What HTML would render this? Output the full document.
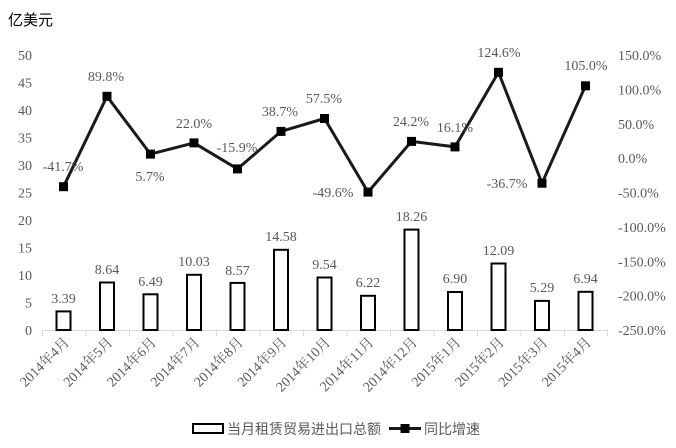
<!DOCTYPE html>
<html><head><meta charset="utf-8"><style>
body{margin:0;background:#fff}
svg{display:block;font-family:"Liberation Serif","Noto Serif CJK SC",serif}
.t{fill:#595959;font-size:14px}
</style></head><body>
<svg width="676" height="448" viewBox="0 0 676 448" xmlns="http://www.w3.org/2000/svg">
<text x="8" y="25" font-size="15" fill="#000" font-family="'Liberation Sans','Noto Sans CJK SC',sans-serif">亿美元</text>
<g class="t" text-anchor="end">
<text x="32" y="60">50</text><text x="32" y="87.5">45</text><text x="32" y="115">40</text><text x="32" y="142.5">35</text><text x="32" y="170">30</text><text x="32" y="197.5">25</text><text x="32" y="225">20</text><text x="32" y="252.5">15</text><text x="32" y="280">10</text><text x="32" y="307.5">5</text><text x="32" y="335">0</text>
</g>
<g class="t">
<text x="618" y="60">150.0%</text><text x="618" y="94.4">100.0%</text><text x="618" y="128.8">50.0%</text><text x="618" y="163">0.0%</text><text x="618" y="197.5">-50.0%</text><text x="618" y="231.9">-100.0%</text><text x="618" y="266.3">-150.0%</text><text x="618" y="300.6">-200.0%</text><text x="618" y="335">-250.0%</text>
</g>
<g stroke="#d9d9d9" stroke-width="1">
<line x1="42" y1="330.5" x2="608" y2="330.5"/>
<line x1="42.5" y1="330" x2="42.5" y2="336"/><line x1="86" y1="330" x2="86" y2="336"/><line x1="129.5" y1="330" x2="129.5" y2="336"/><line x1="173" y1="330" x2="173" y2="336"/><line x1="216.5" y1="330" x2="216.5" y2="336"/><line x1="260" y1="330" x2="260" y2="336"/><line x1="303.5" y1="330" x2="303.5" y2="336"/><line x1="347" y1="330" x2="347" y2="336"/><line x1="390.5" y1="330" x2="390.5" y2="336"/><line x1="434" y1="330" x2="434" y2="336"/><line x1="477.5" y1="330" x2="477.5" y2="336"/><line x1="521" y1="330" x2="521" y2="336"/><line x1="564.5" y1="330" x2="564.5" y2="336"/><line x1="607.5" y1="330" x2="607.5" y2="336"/>
</g>
<g fill="#fff" stroke="#000" stroke-width="2">
<rect x="56.5" y="311.4" width="14" height="18.6"/>
<rect x="100" y="282.5" width="14" height="47.5"/>
<rect x="143.5" y="294.3" width="14" height="35.7"/>
<rect x="187" y="274.8" width="14" height="55.2"/>
<rect x="230.5" y="282.9" width="14" height="47.1"/>
<rect x="274" y="249.8" width="14" height="80.2"/>
<rect x="317.5" y="277.5" width="14" height="52.5"/>
<rect x="361" y="295.8" width="14" height="34.2"/>
<rect x="404.5" y="229.6" width="14" height="100.4"/>
<rect x="448" y="292" width="14" height="38"/>
<rect x="491.5" y="263.5" width="14" height="66.5"/>
<rect x="535" y="300.9" width="14" height="29.1"/>
<rect x="578.5" y="291.8" width="14" height="38.2"/>
</g>
<g class="t" text-anchor="middle">
<text x="63.5" y="303">3.39</text><text x="107" y="274">8.64</text><text x="150.5" y="286">6.49</text><text x="194" y="266">10.03</text><text x="237.5" y="275">8.57</text><text x="281" y="241">14.58</text><text x="324.5" y="269">9.54</text><text x="368" y="287">6.22</text><text x="411.5" y="221">18.26</text><text x="455" y="283">6.90</text><text x="498.5" y="255">12.09</text><text x="542" y="292">5.29</text><text x="585.5" y="283">6.94</text>
</g>
<polyline fill="none" stroke="#1a1a1a" stroke-width="3" stroke-linejoin="round" points="63.5,186.7 107,96.3 150.5,154.1 194,142.9 237.5,168.9 281,131.4 324.5,118.5 368,192.1 411.5,141.4 455,146.9 498.5,72.3 542,183.2 585.5,85.8"/>
<g fill="#000">
<rect x="59" y="182.2" width="9" height="9"/><rect x="102.5" y="91.8" width="9" height="9"/><rect x="146" y="149.6" width="9" height="9"/><rect x="189.5" y="138.4" width="9" height="9"/><rect x="233" y="164.4" width="9" height="9"/><rect x="276.5" y="126.9" width="9" height="9"/><rect x="320" y="114" width="9" height="9"/><rect x="363.5" y="187.6" width="9" height="9"/><rect x="407" y="136.9" width="9" height="9"/><rect x="450.5" y="142.4" width="9" height="9"/><rect x="494" y="67.8" width="9" height="9"/><rect x="537.5" y="178.7" width="9" height="9"/><rect x="581" y="81.3" width="9" height="9"/>
</g>
<g class="t" text-anchor="middle">
<text x="63" y="171">-41.7%</text><text x="106" y="81">89.8%</text><text x="150" y="181">5.7%</text><text x="194" y="128">22.0%</text><text x="237" y="152">-15.9%</text><text x="280" y="116">38.7%</text><text x="324" y="103">57.5%</text><text x="333" y="197">-49.6%</text><text x="411" y="126">24.2%</text><text x="455" y="132">16.1%</text><text x="499" y="57">124.6%</text><text x="507" y="188">-36.7%</text><text x="586" y="70">105.0%</text>
</g>
<g class="t" text-anchor="end">
<text transform="translate(70,343) rotate(-45)">2014年4月</text>
<text transform="translate(113.5,343) rotate(-45)">2014年5月</text>
<text transform="translate(157,343) rotate(-45)">2014年6月</text>
<text transform="translate(200.5,343) rotate(-45)">2014年7月</text>
<text transform="translate(244,343) rotate(-45)">2014年8月</text>
<text transform="translate(287.5,343) rotate(-45)">2014年9月</text>
<text transform="translate(331,343) rotate(-45)">2014年10月</text>
<text transform="translate(374.5,343) rotate(-45)">2014年11月</text>
<text transform="translate(418,343) rotate(-45)">2014年12月</text>
<text transform="translate(461.5,343) rotate(-45)">2015年1月</text>
<text transform="translate(505,343) rotate(-45)">2015年2月</text>
<text transform="translate(548.5,343) rotate(-45)">2015年3月</text>
<text transform="translate(592,343) rotate(-45)">2015年4月</text>
</g>
<rect x="193" y="424" width="30" height="9" fill="#fff" stroke="#000" stroke-width="2"/>
<text x="227" y="434" class="t" font-family="'Liberation Sans','Noto Sans CJK SC',sans-serif">当月租赁贸易进出口总额</text>
<line x1="389" y1="428.5" x2="421" y2="428.5" stroke="#1a1a1a" stroke-width="3"/>
<rect x="400.5" y="424" width="9" height="9" fill="#000"/>
<text x="424" y="434" class="t" font-family="'Liberation Sans','Noto Sans CJK SC',sans-serif">同比增速</text>
</svg>
</body></html>
